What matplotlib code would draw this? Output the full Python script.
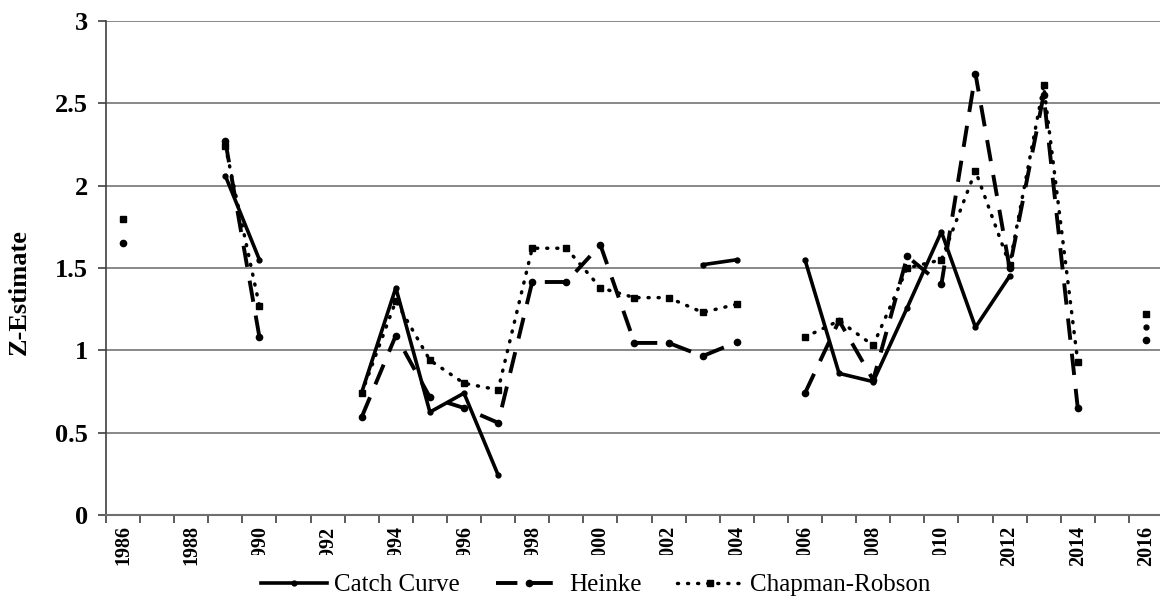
import numpy as np
import matplotlib
matplotlib.use("Agg")
import matplotlib.pyplot as plt

# years shown on the category axis
years = list(range(1986, 2017))
nan = np.nan

# Z estimates per year (nan = no estimate)
catch_curve = [nan, nan, nan, 2.06, 1.55, nan, nan, 0.745, 1.38, 0.625,
               0.74, 0.243, nan, nan, nan, nan, nan, 1.52, 1.55, nan,
               1.55, 0.86, 0.81, 1.26, 1.72, 1.14, 1.45, nan, nan, nan,
               1.14]
heinke = [1.65, nan, nan, 2.27, 1.08, nan, nan, 0.595, 1.09, 0.715,
          0.65, 0.56, 1.415, 1.415, 1.64, 1.045, 1.045, 0.965, 1.05, nan,
          0.74, 1.18, 0.82, 1.57, 1.40, 2.68, 1.50, 2.55, 0.65, nan,
          1.06]
chapman = [1.80, nan, nan, 2.24, 1.27, nan, nan, 0.74, 1.30, 0.94,
           0.80, 0.76, 1.62, 1.62, 1.38, 1.32, 1.32, 1.23, 1.28, nan,
           1.08, 1.18, 1.03, 1.50, 1.55, 2.09, 1.52, 2.61, 0.93, nan,
           1.22]

serif = ["Liberation Serif", "DejaVu Serif"]
plt.rcParams["font.family"] = serif

fig = plt.figure(figsize=(11.6, 6.09), dpi=100)
ax = fig.add_axes([106 / 1160, 94 / 609, 1057 / 1160, 494 / 609])

x = np.arange(len(years))
ax.plot(x, catch_curve, color="black", lw=2.6, ls="-",
        marker="o", ms=3.5, label="Catch Curve", zorder=3)
ax.plot(x, heinke, color="black", lw=2.8, ls=(0, (5.5, 3.6)),
        marker="o", ms=4.5, label="Heinke", zorder=3)
ax.plot(x, chapman, color="black", lw=2.5, ls=(0, (0.3, 2.6)),
        dash_capstyle="round", marker="s", ms=4.5, label="Chapman-Robson",
        zorder=3)

ax.set_xlim(-0.5, len(years) - 0.5)
ax.set_ylim(0, 3)
ax.set_yticks(np.arange(0, 3.01, 0.5))
ax.set_yticklabels(["0", "0.5", "1", "1.5", "2", "2.5", "3"])
ax.yaxis.grid(True, color="#7f7f7f", lw=1.3)
ax.set_axisbelow(True)

# tick marks on category boundaries, labels on every second category
ax.set_xticks(np.arange(-0.5, len(years), 1.0))
ax.set_xticklabels([])
ax.set_xticks(x[::2], minor=True)
ax.set_xticklabels([str(y) for y in years[::2]], minor=True,
                   rotation=90, fontsize=14.5, fontweight="bold")
ax.tick_params(axis="x", which="major", length=6, width=1.2, color="#404040")
ax.tick_params(axis="x", which="minor", length=0, pad=7.5)
ax.tick_params(axis="y", length=6, width=1.2, color="#404040", pad=7)
for lab in ax.get_yticklabels():
    lab.set_fontsize(19)
    lab.set_fontweight("bold")

for side in ["top", "right"]:
    ax.spines[side].set_visible(False)
ax.spines["left"].set_color("#404040")
ax.spines["left"].set_linewidth(1.2)
ax.spines["bottom"].set_color("#6f6f6f")
ax.spines["bottom"].set_linewidth(1.5)

fig.text(19 / 1160, 1 - 292 / 609, "Z-Estimate", rotation=90,
         ha="center", va="center", fontsize=19, fontweight="bold")

# white legend box sits over the lower ends of the year labels
leg = ax.legend(loc="center", bbox_to_anchor=(596 / 1160, 1 - 585 / 609),
                bbox_transform=fig.transFigure, ncol=3, frameon=True,
                fancybox=False, edgecolor="none", facecolor="white",
                framealpha=1, fontsize=18, handlelength=2.64,
                columnspacing=1.44, handletextpad=0.28, borderpad=0.74)

fig.savefig("out.png", dpi=100)
